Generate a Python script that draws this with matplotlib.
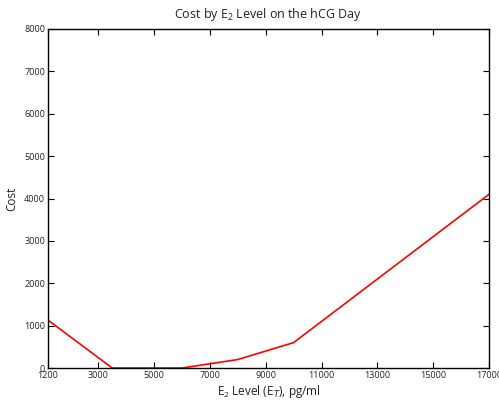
import matplotlib
matplotlib.use("Agg")
from matplotlib import pyplot as plt

# E2 level on hCG day vs cost
e2Level = [1200, 3500, 6000, 8000, 10000, 17000]
cost = [1130, 0, 0, 200, 600, 4100]
xTicks = [1200, 3000, 5000, 7000, 9000, 11000, 13000, 15000, 17000]
yTicks = [0, 1000, 2000, 3000, 4000, 5000, 6000, 7000, 8000]

plt.rcParams['font.family'] = ['Open Sans', 'DejaVu Sans']
plt.rcParams['mathtext.fontset'] = 'custom'
plt.rcParams['mathtext.rm'] = 'Open Sans'

fig = plt.figure(figsize=(4.99, 4.0), dpi=100)
ax = fig.add_axes([0.0962, 0.08, 0.8838, 0.8475])
ax.plot(e2Level, cost, color='#ff0000', linewidth=1.2)

ax.set_xlim(1200, 17000)
ax.set_ylim(0, 8000)
ax.set_xticks(xTicks)
ax.set_yticks(yTicks)
ax.tick_params(direction='in', length=4, width=0.8, labelsize=6.5,
               labelcolor='#222222', top=True, right=True, pad=2)
for s in ax.spines.values():
    s.set_linewidth(1.0)

ax.set_title(r"Cost by E$_{2}$ Level on the hCG Day", fontsize=9, pad=8, color='#222222')
ax.set_xlabel(r"E$_{2}$ Level (E$_{T}$), pg/ml", fontsize=8.5, labelpad=2, color='#222222')
ax.set_ylabel("Cost", fontsize=8.5, labelpad=4, color='#222222')

fig.savefig("out.png", dpi=100)
